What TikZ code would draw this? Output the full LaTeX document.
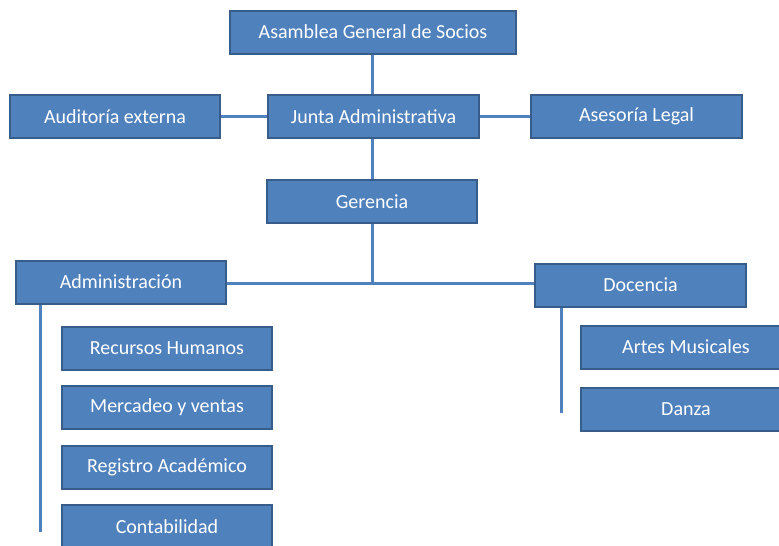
\documentclass[tikz,border=0pt]{standalone}
\usepackage{fontspec}
\setmainfont{Carlito}
\definecolor{boxfill}{HTML}{4F81BD}
\definecolor{boxedge}{HTML}{385D8A}
\definecolor{linkcol}{HTML}{4F81BD}
\begin{document}
\begin{tikzpicture}[x=1pt,y=-1pt,
  orgbox/.style={draw=boxedge, line width=2pt, fill=boxfill, text=white,
    minimum width=210pt, minimum height=43pt, inner sep=0pt,
    font=\fontsize{20}{22}\selectfont},
  link/.style={draw=linkcol, line width=3pt}]
\useasboundingbox (0,0) rectangle (779,546);
\clip (0,0) rectangle (779,546);
\coordinate (jn) at (372,283);
\coordinate (aend) at (40,532);
\coordinate (dend) at (561,413);
\node[orgbox, minimum width=286pt] (asam) at (373,32) {Asamblea General de Socios};
\node[orgbox, minimum width=211pt] (junta) at (373.5,116.5) {Junta Administrativa};
\node[orgbox] (audit) at (115,116.5) {Auditoría externa};
\node[orgbox, minimum width=211pt] (aseso) at (636.5,116.5) {Asesoría Legal};
\node[orgbox] (ger) at (372,201.5) {Gerencia};
\node[orgbox] (adm) at (121,282) {Administración};
\node[orgbox, minimum width=211pt] (doc) at (640.5,285) {Docencia};
\node[orgbox] (rh) at (167,348.5) {Recursos Humanos};
\node[orgbox] (mv) at (167,407) {Mercadeo y ventas};
\node[orgbox] (ra) at (167,467) {Registro Académico};
\node[orgbox] (cont) at (167,526.5) {Contabilidad};
\node[orgbox] (am) at (686,347) {Artes Musicales};
\node[orgbox] (dz) at (686,409) {Danza};
\draw[link] (asam.south -| jn) -- (junta.north -| jn);
\draw[link] (junta.south -| jn) -- (ger.north -| jn);
\draw[link] (ger.south -| jn) -- (jn);
\draw[link] (audit.east) -- (junta.west);
\draw[link] (junta.east) -- (aseso.west);
\draw[link] (adm.east |- jn) -- (doc.west |- jn);
\draw[link] (adm.south -| aend) -- (aend);
\draw[link] (doc.south -| dend) -- (dend);
\end{tikzpicture}
\end{document}
